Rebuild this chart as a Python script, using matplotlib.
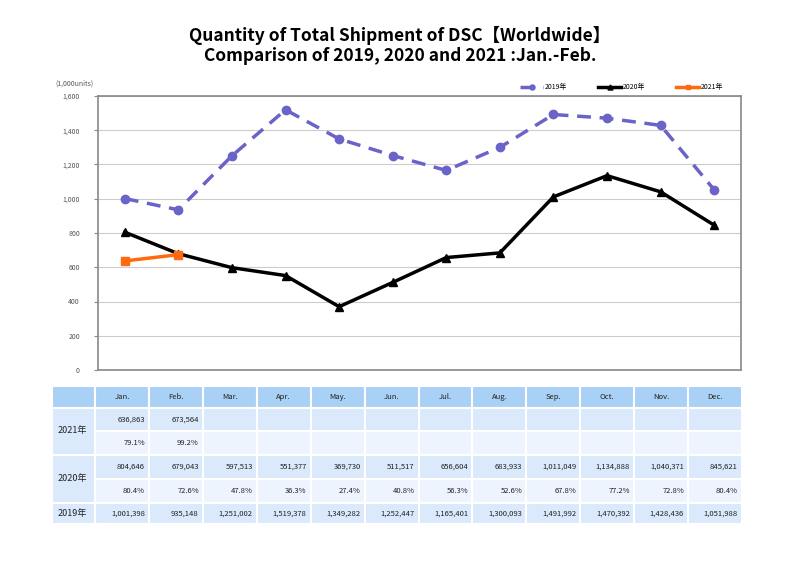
import numpy as np
import matplotlib.pyplot as plt
from matplotlib.patches import Rectangle

plt.rcParams['font.family'] = ['Noto Sans CJK JP', 'DejaVu Sans']

months = ['Jan.', 'Feb.', 'Mar.', 'Apr.', 'May.', 'Jun.', 'Jul.', 'Aug.', 'Sep.', 'Oct.', 'Nov.', 'Dec.']
y2019 = [1001398, 935148, 1251002, 1519378, 1349282, 1252447, 1165401, 1300093, 1491992, 1470392, 1428436, 1051988]
y2020 = [804646, 679043, 597513, 551377, 369730, 511517, 656604, 683933, 1011049, 1134888, 1040371, 845621]
y2021 = [636863, 673564]
pct2020 = ['80.4%', '72.6%', '47.8%', '36.3%', '27.4%', '40.8%', '56.3%', '52.6%', '67.8%', '77.2%', '72.8%', '80.4%']
pct2021 = ['79.1%', '99.2%']
yticks = [0, 200, 400, 600, 800, 1000, 1200, 1400, 1600]

W, H = 800, 566
fig = plt.figure(figsize=(W / 100, H / 100), dpi=100)

fig.text(0.5, 1 - 35 / H, 'Quantity of Total Shipment of DSC\u3010Worldwide\u3011', ha='center', va='center',
         fontsize=12.5, fontweight='bold')
fig.text(0.5, 1 - 56 / H, 'Comparison of 2019, 2020 and 2021 :Jan.-Feb.', ha='center', va='center',
         fontsize=12.5, fontweight='bold')

# chart
ax = fig.add_axes([98 / W, 1 - 370 / H, (741 - 98) / W, (370 - 96) / H])
x = np.arange(12)
ax.plot(x, np.array(y2019) / 1000, color='#6a63c8', lw=2.5, ls=(0, (4, 2.5)), marker='o', ms=6, label='2019年')
ax.plot(x, np.array(y2020) / 1000, color='black', lw=2.5, marker='^', ms=6, label='2020年')
ax.plot(x[:len(y2021)], np.array(y2021) / 1000, color='#ff6a10', lw=2.5, marker='s', ms=6, label='2021年')
ax.set_xlim(-0.5, 11.5)
ax.set_ylim(0, 1600)
ax.set_yticks(yticks)
ax.set_yticklabels([f'{v:,}' for v in yticks], fontsize=5, color='#555555')
ax.set_xticks([])
ax.tick_params(axis='y', length=3, color='#888888', pad=10)
ax.grid(axis='y', color='#cccccc', lw=0.8)
ax.set_axisbelow(True)
for s in ax.spines.values():
    s.set_color('#888888')
    s.set_linewidth(1.2)
fig.text(55 / W, 1 - 84 / H, '(1,000units)', fontsize=5, color='#555555', va='center')
ax.legend(loc='lower right', bbox_to_anchor=(0.98, 1.0), ncol=3, frameon=False, fontsize=5,
          handlelength=3.2, handletextpad=0.3, columnspacing=4.5, markerscale=0.6, borderaxespad=0.3)

# table
tx0, tx1, ty0, ty1 = 52, 742, 386, 524
tax = fig.add_axes([tx0 / W, 1 - ty1 / H, (tx1 - tx0) / W, (ty1 - ty0) / H])
lab_w = 43
col_w = (tx1 - tx0 - lab_w) / 12
row_h = [22, 23, 24, 24, 24, 21]
tops = np.concatenate([[0], np.cumsum(row_h)])
tax.set_xlim(0, tx1 - tx0)
tax.set_ylim(ty1 - ty0, 0)
tax.axis('off')

head_c, val_c, pct_c = '#a9d0f5', '#dae9fb', '#edf4fd'
row_colors = [head_c, val_c, pct_c, val_c, pct_c, val_c]

def cell(c0, w, r0, r1, color):
    tax.add_patch(Rectangle((c0, tops[r0]), w, tops[r1] - tops[r0], facecolor=color, edgecolor='white', lw=1.5))

cell(0, lab_w, 0, 1, head_c)
cell(0, lab_w, 1, 3, val_c)
cell(0, lab_w, 3, 5, val_c)
cell(0, lab_w, 5, 6, val_c)
for r in range(6):
    for c in range(12):
        cell(lab_w + c * col_w, col_w, r, r + 1, row_colors[r])

fs = 5.5
tc = '#222222'
for i, lab in [(1, '2021年'), (3, '2020年')]:
    tax.text(6, tops[i + 1], lab, fontsize=6.5, va='center', ha='left', color=tc)
tax.text(6, (tops[5] + tops[6]) / 2, '2019年', fontsize=6.5, va='center', ha='left', color=tc)

def mid(r):
    return (tops[r] + tops[r + 1]) / 2

for c, m in enumerate(months):
    cx = lab_w + c * col_w
    tax.text(cx + col_w / 2, mid(0), m, fontsize=fs, ha='center', va='center', color=tc)
    tax.text(cx + col_w - 4, mid(3), f'{y2020[c]:,}', fontsize=fs, ha='right', va='center', color=tc)
    tax.text(cx + col_w - 4, mid(4), pct2020[c], fontsize=fs, ha='right', va='center', color=tc)
    tax.text(cx + col_w - 4, mid(5), f'{y2019[c]:,}', fontsize=fs, ha='right', va='center', color=tc)
for c in range(len(y2021)):
    cx = lab_w + c * col_w
    tax.text(cx + col_w - 4, mid(1), f'{y2021[c]:,}', fontsize=fs, ha='right', va='center', color=tc)
    tax.text(cx + col_w - 4, mid(2), pct2021[c], fontsize=fs, ha='right', va='center', color=tc)

fig.savefig('out.png', dpi=100)
